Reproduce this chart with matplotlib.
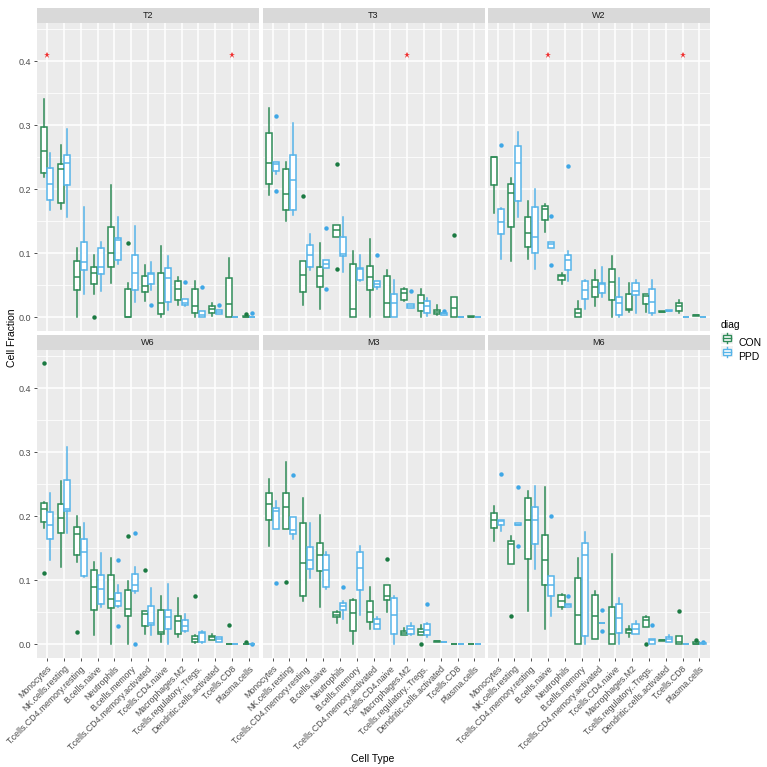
import matplotlib.pyplot as plt
from matplotlib.patches import Rectangle, Patch
from matplotlib.lines import Line2D
from matplotlib.legend_handler import HandlerBase

# categories and facets
cell_types = ["Monocytes", "NK.cells.resting", "T.cells.CD4.memory.resting",
              "B.cells.naive", "Neutrophils", "B.cells.memory",
              "T.cells.CD4.memory.activated", "T.cells.CD4.naive",
              "Macrophages.M2", "T.cells.regulatory..Tregs.",
              "Dendritic.cells.activated", "T.cells.CD8", "Plasma.cells"]
panels = ["T2", "T3", "W2", "W6", "M3", "M6"]
groups = ["CON", "PPD"]

# box stats per panel/group: (whisker low, q1, median, q3, whisker high)
T2_CON = [(0.220, 0.226, 0.260, 0.298, 0.341), (0.169, 0.179, 0.231, 0.239, 0.270),
          (0.000, 0.042, 0.063, 0.088, 0.108), (0.036, 0.052, 0.070, 0.079, 0.098),
          (0.054, 0.078, 0.100, 0.141, 0.207), (0.000, 0.000, 0.000, 0.045, 0.053),
          (0.026, 0.039, 0.049, 0.065, 0.081), (0.001, 0.005, 0.023, 0.069, 0.112),
          (0.019, 0.027, 0.045, 0.057, 0.063), (0.001, 0.006, 0.018, 0.044, 0.056),
          (0.002, 0.006, 0.013, 0.017, 0.023), (0.000, 0.000, 0.021, 0.061, 0.092),
          (0.000, 0.000, 0.000, 0.002, 0.002)]
T2_PPD = [(0.168, 0.183, 0.208, 0.234, 0.256), (0.156, 0.207, 0.241, 0.253, 0.294),
          (0.036, 0.074, 0.086, 0.117, 0.173), (0.041, 0.067, 0.079, 0.108, 0.117),
          (0.084, 0.090, 0.121, 0.124, 0.156), (0.024, 0.042, 0.069, 0.098, 0.142),
          (0.043, 0.052, 0.068, 0.070, 0.086), (0.011, 0.024, 0.062, 0.077, 0.096),
          (0.017, 0.019, 0.023, 0.028, 0.028), (0.000, 0.000, 0.004, 0.010, 0.010),
          (0.005, 0.005, 0.008, 0.011, 0.011), (0.000, 0.000, 0.000, 0.000, 0.000),
          (0.000, 0.000, 0.000, 0.001, 0.001)]
T3_CON = [(0.191, 0.209, 0.241, 0.288, 0.327), (0.151, 0.167, 0.192, 0.232, 0.242),
          (0.019, 0.039, 0.066, 0.088, 0.088), (0.013, 0.048, 0.064, 0.079, 0.116),
          (0.125, 0.125, 0.136, 0.145, 0.145), (0.000, 0.000, 0.013, 0.083, 0.104),
          (0.000, 0.042, 0.063, 0.080, 0.123), (0.000, 0.000, 0.023, 0.065, 0.074),
          (0.026, 0.027, 0.038, 0.045, 0.046), (0.001, 0.010, 0.022, 0.035, 0.044),
          (0.004, 0.005, 0.009, 0.012, 0.019), (0.000, 0.000, 0.014, 0.031, 0.031),
          (0.001, 0.001, 0.001, 0.002, 0.002)]
T3_PPD = [(0.224, 0.228, 0.240, 0.243, 0.243), (0.160, 0.167, 0.215, 0.253, 0.303),
          (0.074, 0.079, 0.098, 0.113, 0.130), (0.077, 0.077, 0.084, 0.090, 0.090),
          (0.071, 0.096, 0.099, 0.126, 0.156), (0.056, 0.059, 0.075, 0.077, 0.098),
          (0.044, 0.047, 0.052, 0.057, 0.057), (0.000, 0.001, 0.022, 0.036, 0.059),
          (0.014, 0.014, 0.018, 0.021, 0.021), (0.002, 0.006, 0.018, 0.026, 0.030),
          (0.004, 0.004, 0.006, 0.007, 0.007), (0.000, 0.000, 0.000, 0.000, 0.000),
          (0.000, 0.000, 0.000, 0.000, 0.000)]
W2_CON = [(0.163, 0.206, 0.250, 0.251, 0.251), (0.088, 0.141, 0.195, 0.208, 0.218),
          (0.091, 0.110, 0.131, 0.157, 0.181), (0.134, 0.152, 0.169, 0.174, 0.177),
          (0.052, 0.058, 0.064, 0.066, 0.070), (0.000, 0.000, 0.006, 0.013, 0.026),
          (0.018, 0.031, 0.047, 0.059, 0.074), (0.001, 0.027, 0.055, 0.075, 0.096),
          (0.009, 0.011, 0.013, 0.036, 0.054), (0.009, 0.021, 0.034, 0.036, 0.037),
          (0.008, 0.008, 0.009, 0.010, 0.010), (0.006, 0.010, 0.017, 0.023, 0.027),
          (0.002, 0.002, 0.003, 0.003, 0.003)]
W2_PPD = [(0.091, 0.130, 0.149, 0.170, 0.171), (0.157, 0.182, 0.241, 0.267, 0.290),
          (0.075, 0.101, 0.126, 0.172, 0.200), (0.109, 0.109, 0.114, 0.118, 0.118),
          (0.057, 0.074, 0.090, 0.097, 0.104), (0.013, 0.028, 0.043, 0.057, 0.058),
          (0.032, 0.038, 0.052, 0.054, 0.079), (0.001, 0.004, 0.022, 0.031, 0.062),
          (0.007, 0.035, 0.041, 0.053, 0.058), (0.004, 0.007, 0.024, 0.044, 0.058),
          (0.010, 0.010, 0.010, 0.011, 0.011), (0.000, 0.000, 0.000, 0.000, 0.000),
          (0.000, 0.000, 0.001, 0.001, 0.001)]
W6_CON = [(0.181, 0.191, 0.212, 0.221, 0.223), (0.121, 0.174, 0.197, 0.220, 0.255),
          (0.129, 0.139, 0.173, 0.184, 0.201), (0.015, 0.054, 0.089, 0.116, 0.128),
          (0.000, 0.056, 0.071, 0.109, 0.135), (0.000, 0.044, 0.055, 0.085, 0.099),
          (0.016, 0.029, 0.048, 0.052, 0.052), (0.003, 0.016, 0.020, 0.053, 0.076),
          (0.011, 0.016, 0.036, 0.045, 0.072), (0.002, 0.003, 0.009, 0.013, 0.015),
          (0.006, 0.006, 0.011, 0.013, 0.016), (0.000, 0.000, 0.000, 0.000, 0.000),
          (0.000, 0.000, 0.000, 0.001, 0.001)]
W6_PPD = [(0.132, 0.164, 0.186, 0.206, 0.236), (0.174, 0.208, 0.211, 0.257, 0.308),
          (0.105, 0.107, 0.144, 0.165, 0.190), (0.058, 0.063, 0.086, 0.108, 0.143),
          (0.059, 0.060, 0.067, 0.080, 0.093), (0.080, 0.083, 0.092, 0.110, 0.121),
          (0.015, 0.030, 0.034, 0.060, 0.088), (0.000, 0.024, 0.042, 0.054, 0.094),
          (0.019, 0.021, 0.028, 0.038, 0.048), (0.002, 0.003, 0.018, 0.020, 0.021),
          (0.004, 0.004, 0.008, 0.011, 0.011), (0.000, 0.000, 0.000, 0.000, 0.000),
          (0.000, 0.000, 0.000, 0.000, 0.000)]
M3_CON = [(0.153, 0.195, 0.220, 0.237, 0.259), (0.180, 0.180, 0.214, 0.236, 0.285),
          (0.068, 0.075, 0.127, 0.190, 0.229), (0.058, 0.114, 0.139, 0.158, 0.202),
          (0.033, 0.043, 0.046, 0.050, 0.052), (0.000, 0.021, 0.049, 0.070, 0.071),
          (0.024, 0.035, 0.050, 0.068, 0.090), (0.050, 0.069, 0.076, 0.092, 0.092),
          (0.014, 0.014, 0.018, 0.021, 0.026), (0.015, 0.015, 0.020, 0.024, 0.030),
          (0.004, 0.004, 0.005, 0.005, 0.005), (0.000, 0.000, 0.000, 0.000, 0.000),
          (0.000, 0.000, 0.000, 0.000, 0.000)]
M3_PPD = [(0.180, 0.180, 0.208, 0.213, 0.224), (0.164, 0.173, 0.178, 0.199, 0.199),
          (0.104, 0.117, 0.132, 0.152, 0.189), (0.086, 0.089, 0.116, 0.139, 0.145),
          (0.039, 0.054, 0.060, 0.065, 0.067), (0.046, 0.085, 0.120, 0.144, 0.153),
          (0.024, 0.024, 0.031, 0.039, 0.043), (0.000, 0.016, 0.046, 0.072, 0.075),
          (0.015, 0.016, 0.024, 0.029, 0.034), (0.012, 0.015, 0.023, 0.032, 0.034),
          (0.004, 0.004, 0.004, 0.004, 0.004), (0.000, 0.000, 0.000, 0.000, 0.000),
          (0.000, 0.000, 0.000, 0.000, 0.000)]
M6_CON = [(0.162, 0.182, 0.195, 0.205, 0.216), (0.125, 0.125, 0.156, 0.161, 0.169),
          (0.052, 0.134, 0.194, 0.228, 0.239), (0.024, 0.093, 0.131, 0.171, 0.246),
          (0.055, 0.058, 0.067, 0.077, 0.079), (0.000, 0.000, 0.046, 0.104, 0.135),
          (0.009, 0.009, 0.045, 0.077, 0.083), (0.000, 0.000, 0.016, 0.058, 0.141),
          (0.012, 0.017, 0.022, 0.024, 0.029), (0.027, 0.027, 0.038, 0.042, 0.045),
          (0.005, 0.005, 0.006, 0.006, 0.006), (0.000, 0.000, 0.004, 0.013, 0.013),
          (0.000, 0.000, 0.001, 0.003, 0.003)]
M6_PPD = [(0.177, 0.186, 0.192, 0.194, 0.194), (0.186, 0.186, 0.187, 0.190, 0.190),
          (0.118, 0.157, 0.194, 0.215, 0.247), (0.045, 0.076, 0.093, 0.106, 0.107),
          (0.058, 0.058, 0.061, 0.063, 0.063), (0.000, 0.013, 0.139, 0.158, 0.175),
          (0.033, 0.033, 0.034, 0.034, 0.034), (0.000, 0.018, 0.041, 0.063, 0.072),
          (0.016, 0.016, 0.024, 0.032, 0.037), (0.000, 0.000, 0.007, 0.009, 0.009),
          (0.004, 0.004, 0.008, 0.011, 0.015), (0.000, 0.000, 0.000, 0.000, 0.000),
          (0.000, 0.001, 0.002, 0.002, 0.002)]

# outliers: (cell type index, group, value)
T2_OUT = [(3, "CON", 0.0), (5, "CON", 0.116), (6, "PPD", 0.020), (8, "PPD", 0.055),
          (9, "PPD", 0.048), (10, "PPD", 0.020), (12, "CON", 0.005), (12, "PPD", 0.007)]
T3_OUT = [(0, "PPD", 0.314), (0, "PPD", 0.198), (2, "CON", 0.189), (3, "PPD", 0.139),
          (3, "PPD", 0.044), (4, "CON", 0.240), (4, "CON", 0.075), (6, "PPD", 0.098),
          (8, "PPD", 0.041), (10, "PPD", 0.010), (11, "CON", 0.128)]
W2_OUT = [(0, "PPD", 0.269), (3, "PPD", 0.159), (3, "PPD", 0.082), (4, "PPD", 0.237)]
W6_OUT = [(0, "CON", 0.439), (0, "CON", 0.112), (2, "CON", 0.020), (4, "PPD", 0.132),
          (4, "PPD", 0.029), (5, "CON", 0.170), (5, "PPD", 0.174), (5, "PPD", 0.000),
          (6, "CON", 0.116), (9, "CON", 0.075), (11, "CON", 0.030), (12, "CON", 0.004),
          (12, "PPD", 0.001)]
M3_OUT = [(0, "PPD", 0.096), (1, "CON", 0.097), (1, "PPD", 0.264), (4, "PPD", 0.089),
          (7, "CON", 0.133), (9, "CON", 0.000), (9, "PPD", 0.063)]
M6_OUT = [(0, "PPD", 0.266), (1, "CON", 0.045), (1, "PPD", 0.246), (1, "PPD", 0.154),
          (3, "PPD", 0.200), (4, "PPD", 0.076), (6, "PPD", 0.054), (6, "PPD", 0.021),
          (9, "CON", 0.000), (9, "PPD", 0.030), (11, "CON", 0.052), (12, "CON", 0.007),
          (12, "PPD", 0.004)]

# significance stars
star_cells = {"T2": ["Monocytes", "T.cells.CD8"], "T3": ["Macrophages.M2"],
              "W2": ["B.cells.naive", "T.cells.CD8"]}
star_y = 0.41

stats = {"T2": (T2_CON, T2_PPD, T2_OUT), "T3": (T3_CON, T3_PPD, T3_OUT),
         "W2": (W2_CON, W2_PPD, W2_OUT), "W6": (W6_CON, W6_PPD, W6_OUT),
         "M3": (M3_CON, M3_PPD, M3_OUT), "M6": (M6_CON, M6_PPD, M6_OUT)}

colors = {"CON": "#2E8B57", "PPD": "#56B4E9"}
flier_colors = {"CON": "#1B7A42", "PPD": "#3FA7E6"}
offsets = {"CON": -0.2, "PPD": 0.2}

plt.rcParams['font.family'] = ['Liberation Sans', 'DejaVu Sans']


def to_bxp(rows, outs, group):
    res = []
    for i, (lo, q1, med, q3, hi) in enumerate(rows):
        fl = [v for (k, g, v) in outs if k == i and g == group]
        res.append(dict(whislo=lo, q1=q1, med=med, q3=q3, whishi=hi, fliers=fl))
    return res


class BoxKey(HandlerBase):
    # ggplot-like boxplot legend key
    def create_artists(self, legend, orig, xd, yd, w, h, fontsize, trans):
        c = orig.get_edgecolor()
        bg = Rectangle((xd, yd), w, h, facecolor="#F2F2F2", edgecolor="none", transform=trans)
        cx = xd + w / 2
        bw = w * 0.7
        box = Rectangle((cx - bw / 2, yd + h * 0.25), bw, h * 0.5, facecolor="white",
                        edgecolor=c, lw=1.0, transform=trans)
        med = Line2D([cx - bw / 2, cx + bw / 2], [yd + h * 0.5] * 2, color=c, lw=1.0, transform=trans)
        w1 = Line2D([cx, cx], [yd + h * 0.05, yd + h * 0.25], color=c, lw=1.0, transform=trans)
        w2 = Line2D([cx, cx], [yd + h * 0.75, yd + h * 0.95], color=c, lw=1.0, transform=trans)
        return [bg, w1, w2, box, med]


W, H = 767, 767
fig = plt.figure(figsize=(7.67, 7.67), dpi=100)

lefts = [37, 262.5, 487.5]
pw = 222
ph = 308.5
bottoms = [331.4, 658.4]
strip_h = 15
ylim = (-0.022, 0.46)
x = list(range(1, len(cell_types) + 1))

for p, name in enumerate(panels):
    row, col = divmod(p, 3)
    l = lefts[col] / W
    b = 1 - bottoms[row] / H
    ax = fig.add_axes([l, b, pw / W, ph / H])
    ax.set_facecolor("#EBEBEB")
    for s in ax.spines.values():
        s.set_visible(False)
    ax.set_xlim(0.4, 13.6)
    ax.set_ylim(*ylim)
    ax.set_yticks([0, 0.1, 0.2, 0.3, 0.4])
    ax.set_yticks([0.05, 0.15, 0.25, 0.35, 0.45], minor=True)
    ax.set_xticks(x)
    ax.grid(which="major", color="white", lw=1.1, zorder=0)
    ax.grid(which="minor", axis="y", color="white", lw=0.55, zorder=0)
    ax.set_axisbelow(True)
    ax.tick_params(which="minor", length=0)
    ax.tick_params(which="major", length=2.5, width=0.6, color="#333333",
                   labelcolor="#4D4D4D", pad=1.5)

    con_rows, ppd_rows, outs = stats[name]
    for g, rows in zip(groups, (con_rows, ppd_rows)):
        c = colors[g]
        ax.bxp(to_bxp(rows, outs, g), positions=[v + offsets[g] for v in x], widths=0.36,
               showcaps=False, patch_artist=True, manage_ticks=False,
               boxprops=dict(facecolor="white", edgecolor=c, lw=1.1),
               medianprops=dict(color=c, lw=1.1),
               whiskerprops=dict(color=c, lw=1.1),
               flierprops=dict(marker="o", markerfacecolor=flier_colors[g],
                               markeredgecolor="none", markersize=3.2),
               zorder=3)

    for cell in star_cells.get(name, []):
        ax.plot(cell_types.index(cell) + 1, star_y, marker="*", color="#F03030",
                markersize=5, markeredgewidth=0, zorder=4)

    if col == 0:
        ax.set_yticklabels(["0.0", "0.1", "0.2", "0.3", "0.4"], fontsize=6.5)
    else:
        ax.tick_params(axis="y", length=0, labelleft=False)
    if row == 1:
        ax.set_xticklabels(cell_types, rotation=45, ha="right", rotation_mode="anchor",
                           fontsize=6.3)
    else:
        ax.tick_params(axis="x", length=0, labelbottom=False)

    sax = fig.add_axes([l, b + ph / H, pw / W, strip_h / H])
    sax.set_facecolor("#D9D9D9")
    sax.set_xticks([])
    sax.set_yticks([])
    for s in sax.spines.values():
        s.set_visible(False)
    sax.text(0.5, 0.5, name, ha="center", va="center", fontsize=6.5, color="#1A1A1A",
             transform=sax.transAxes)

fig.text(12 / W, 1 - 338 / H, "Cell Fraction", rotation=90, ha="center", va="center",
         fontsize=7.5, color="black")
fig.text(373 / W, 1 - 759 / H, "Cell Type", ha="center", va="center", fontsize=7.5,
         color="black")

handles = [Patch(facecolor="white", edgecolor=colors[g]) for g in groups]
leg = fig.legend(handles, groups, loc="upper left", bbox_to_anchor=(719 / W, 1 - 318 / H),
                 frameon=False, title="diag", alignment="left", fontsize=7.5,
                 title_fontsize=7.5, handlelength=1.15, handleheight=1.3,
                 handletextpad=0.5, labelspacing=0.2, borderaxespad=0, borderpad=0.2,
                 handler_map={Patch: BoxKey()})
leg.get_title().set_position((0, 0))
leg._legend_box.sep = 5

fig.savefig("out.png", dpi=100)
